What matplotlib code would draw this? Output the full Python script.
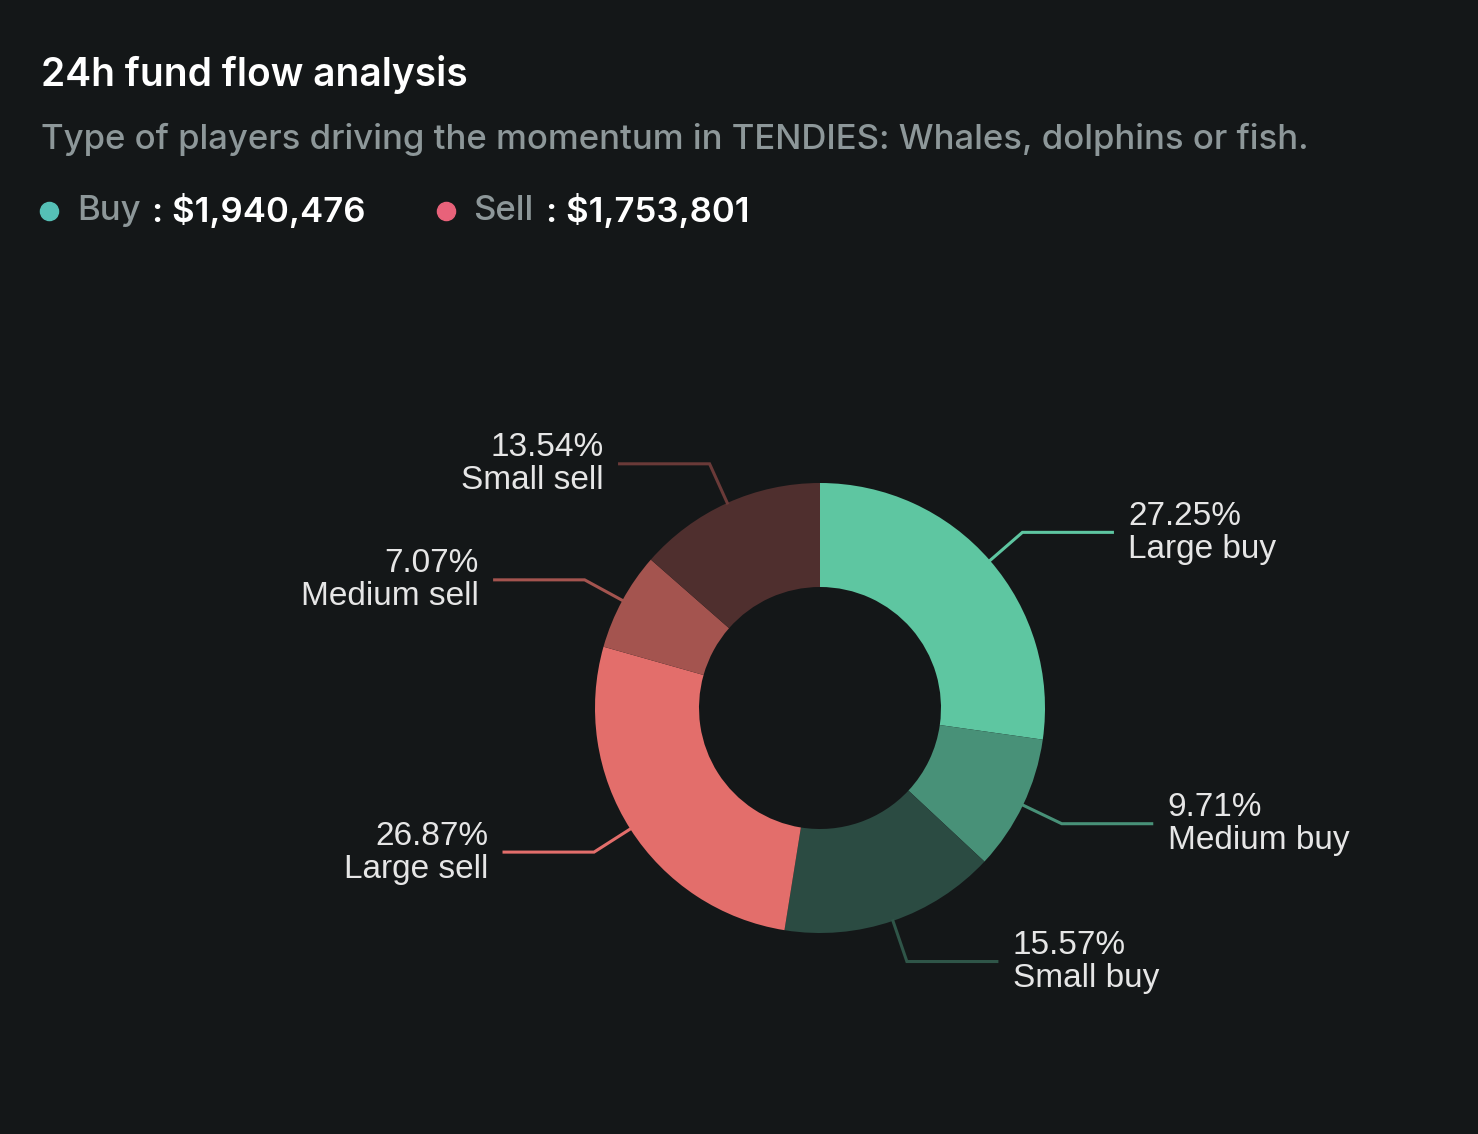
import numpy as np
import matplotlib

matplotlib.use("Agg")
import matplotlib.pyplot as plt

# data
CATEGORIES = ["Large buy", "Medium buy", "Small buy", "Large sell", "Medium sell", "Small sell"]
SHARES = [27.25, 9.71, 15.57, 26.87, 7.07, 13.54]
COLORS = ["#5ec6a1", "#489178", "#2b4b42", "#e36e6b", "#a4544f", "#4f2f2e"]
LINE_COLORS = ["#5ec6a1", "#489178", "#2f5548", "#e36e6b", "#a4544f", "#6a3a38"]
BUY_TOTAL = 1940476
SELL_TOTAL = 1753801

BG = "#141718"
W, H = 1478, 1134

fig = plt.figure(figsize=(W / 100, H / 100), dpi=100, facecolor=BG)
ax = fig.add_axes([0, 0, 1, 1])
ax.set_facecolor(BG)

# header
ax.text(41, 75, "24h fund flow analysis", color="white", fontsize=28,
        fontfamily="Inter", fontweight="semibold", va="center")
ax.text(41, 139, "Type of players driving the momentum in TENDIES: Whales, dolphins or fish.",
        color="#8d9799", fontsize=25, fontfamily="Inter", fontweight="medium", va="center")

ax.scatter([49], [211], s=170, color="#55c0b6", zorder=3)
ax.text(77, 211, "Buy", color="#8d9799", fontsize=25, fontfamily="Inter",
        fontweight="medium", va="center")
ax.text(152, 211, f": ${BUY_TOTAL:,}", color="white", fontsize=25, fontfamily="Inter",
        fontweight="semibold", va="center")
ax.scatter([446], [211], s=170, color="#e8627a", zorder=3)
ax.text(473, 211, "Sell", color="#8d9799", fontsize=25, fontfamily="Inter",
        fontweight="medium", va="center")
ax.text(546, 211, f": ${SELL_TOTAL:,}", color="white", fontsize=25, fontfamily="Inter",
        fontweight="semibold", va="center")

# donut in pixel coordinates (y axis points down)
cx, cy, r_out, r_in = 820, 708, 225, 121
ax.pie(SHARES, colors=COLORS, startangle=-90, counterclock=True,
       center=(cx, cy), radius=r_out, frame=True,
       wedgeprops=dict(width=r_out - r_in, linewidth=0))
ax.set_xlim(0, W)
ax.set_ylim(H, 0)
ax.set_aspect("equal")
ax.axis("off")

# leader lines and labels
cum = np.cumsum([0] + SHARES[:-1])
for name, share, start, lc in zip(CATEGORIES, SHARES, cum, LINE_COLORS):
    mid = np.deg2rad(90 - (start + share / 2) * 3.6)
    x0, y0 = cx + r_out * np.cos(mid), cy - r_out * np.sin(mid)
    x1, y1 = cx + 268 * np.cos(mid), cy - 268 * np.sin(mid)
    right = np.cos(mid) > 0
    x2 = x1 + 90 if right else x1 - 90
    ax.plot([x0, x1, x2], [y0, y1, y1], color=lc, linewidth=2.2, solid_joinstyle="miter")
    tx = x2 + 16 if right else x2 - 16
    ha = "left" if right else "right"
    ax.text(tx, y1 - 16, f"{share:.2f}%", color="#e6e6e6", fontsize=24,
            fontfamily="Liberation Sans", ha=ha, va="center")
    ax.text(tx, y1 + 17, name, color="#e6e6e6", fontsize=24,
            fontfamily="Liberation Sans", ha=ha, va="center")

fig.savefig("out.png", dpi=100, facecolor=BG)
